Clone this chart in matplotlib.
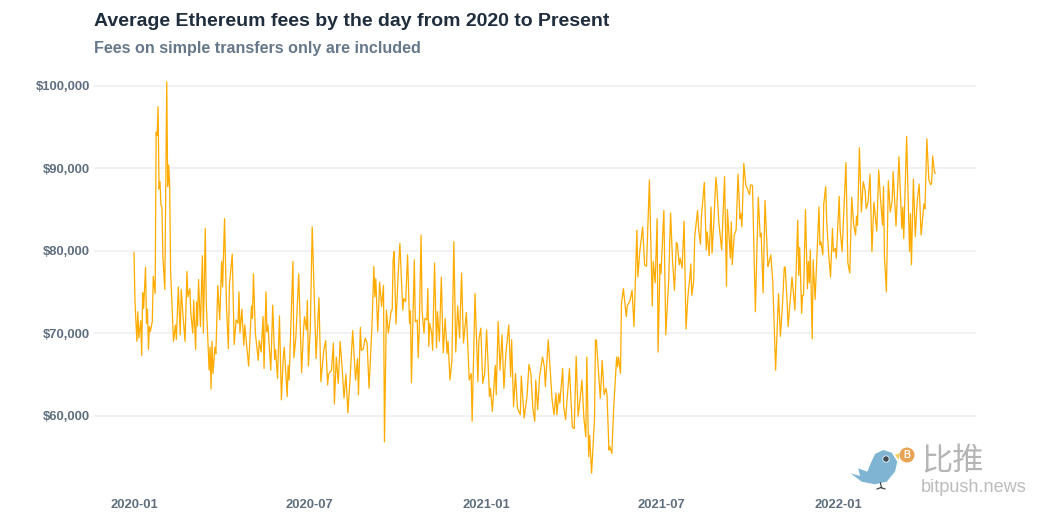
import pandas as pd
import matplotlib
matplotlib.use("Agg")
import matplotlib.pyplot as plt
import matplotlib.dates as mdates
from matplotlib.patches import Polygon, Circle
from matplotlib.ticker import FuncFormatter

days_a = [0,1,3,4,5,7,8,9,10,12,13,14,15,16,17,19,20,22,23,24,25,26,27,28,29,30,32,34,35,36,37,38,41,43,44,46,48,49,51,53,55,56,58,59,61,62,64,65,66,67,69,71,72,74,75,78,79,80,81,82,84,85,87,89,91,92,94,96,98,99,102,104,106,108,109,110,112,114,115,117,119,122,123,124,126,129,130,132,134,135,137,138,139,142,144,146,147,149,151,153,155,156,159,160,161,165,166,168,171,174,176,177,179,180,181,183,185,189,192,194,197,199,201,202,205,207,208,210,212,214,216,218,220,222,224,227,230,232,233,235,236,238,240,242,244,247,249,250,251,253,255,257,259,260,262,264,267,268,269,270,272,274]
fees_a = [79800,74000,69000,72600,69400,71500,67300,74900,73000,78000,71200,72900,68000,70800,70200,71400,76900,74800,94400,94000,97500,87500,88400,85500,85300,79300,75300,100500,87800,90400,88200,77600,69000,71000,69200,75600,69800,75300,72000,69000,77500,74400,75400,72400,70000,74000,68000,73800,70900,76500,70800,79400,70000,82700,73800,65500,68300,63200,69000,65100,68300,67500,75800,71600,78700,75600,83900,73200,68100,75800,79600,68600,71600,71200,75000,70000,72900,68500,71000,68500,66000,73300,71800,77200,70000,66700,69100,67700,72000,65700,75000,70200,71000,65500,73400,66800,68000,64500,72100,61900,67100,68300,62300,66100,64300,78700,67000,69400,77200,65200,70400,72000,70400,74000,66000,70400,82900,66900,74300,64100,67900,69100,63700,65000,65500,68800,61400,67100,63900,69000,65900,62100,65000,60300,63900,70300,64300,66900,62500,70700,67900,68100,69400,68800,63300,70800,78100,74400,76600,70200,76200,73200,75800,56800,72800,70000,72800,72800,78900,79900,71100,76600]
days_b = [276,279,280,282,284,286,287,288,291,292,294,295,296,298,299,301,302,304,305,306,307,309,310,312,314,315,317,319,321,323,325,326,328,330,332,334,336,338,340,342,345,348,350,351,354,357,358,360,362,364,366,369,370,372,375,376,378,380,382,384,386,389,391,392,394,396,398,401,402,405,408,410,412,414,416,417,419,421,424,426,427,430,434,436,438,439,441,442,445,446,448,452,455,457,459,461,463,465,467,469,470,472,473,475,478,479,480,482,484,486,488,490,491,493,494,496,498,501,502,503,505,506,508,511,512,515,517,519,522,523,525]
fees_b = [80900,72800,74200,73800,79500,71200,72700,64000,78900,71400,71600,67000,70000,81900,72800,70000,71800,71600,75400,68400,71200,70000,67900,78500,68200,72600,69000,76800,67600,71800,67500,69000,64300,66700,81100,67700,73300,69400,77300,68800,72500,64300,65100,59300,74800,64100,69200,70600,63900,65100,70400,62300,63300,60500,66100,62500,71400,65500,69800,63300,67500,71000,64700,69200,61100,65100,60900,60100,64800,59700,62400,66200,65100,60900,59300,64300,60700,64700,67100,65900,63500,69200,61900,60100,62700,60100,62700,61500,65700,61100,59500,65700,58600,58400,67200,59900,61900,64300,59700,57400,67100,55000,57600,53000,59500,69200,69100,65500,62100,66700,62500,63300,62500,55800,56200,55400,61100,67100,65900,67100,65100,73600,75400,72000,73300,74000,75200,70800,82500,76800,79900]
days_c = [528,530,532,535,538,539,541,543,544,546,547,550,552,555,557,559,561,563,564,566,567,569,571,573,575,577,578,579,581,582,585,586,588,589,592,594,595,597,599,600,602,604,605,607,610,613,615,616,619,620,621,623,625,627,629,630,631,633,635,637,639,640,642,645,648,650,651,653,655,658,659,661,663,666,669,671,673,675,676,678,679,683,686,687,689,690,691,693,694,695,697,699,700,701,702,704,705,707,711,712,713,715,716,718,719,721,723,725,726,728,729,732,733,735,739,741,743,745,747,749,750,751,753,755,757,759,760,762,764,766,768,771,773,775,777,778,779,781,783,785,787,788,791,794,797,798,799,802,805,806,807,809,811,813,815,817,820,821,823,825,827,828,829,831,832]
fees_c = [82900,78300,78100,88600,73300,78700,76100,83900,67700,78400,77200,84900,69800,76400,84600,78800,75200,81000,80800,78300,79100,77900,83600,70500,74500,76800,78400,74600,76400,81700,84900,82700,80800,84100,88300,80100,82300,79400,85300,79700,83700,88900,87800,83500,80100,89000,75700,85000,79100,83500,78300,81900,82500,89300,83900,84500,82900,90600,88000,87400,86800,88000,87900,72600,86500,81700,82100,74900,86100,78100,78500,79500,76400,65500,74800,69600,73200,78000,78000,73600,70800,76800,72800,76500,83700,77000,80400,72400,74600,74600,85000,75400,78700,76100,80100,69300,78900,74100,85300,80700,81100,79500,85700,87800,83700,79700,76800,82700,79900,80300,79100,86600,82500,79900,90700,78500,77300,86500,83200,81900,84200,83100,92500,84700,88400,87200,85100,85900,89300,79900,85900,82400,89800,86100,83100,87800,79200,75000,88500,84700,86100,89600,83000,91400,82700,85300,81500,93900,79900,84500,78300,88700,81700,86100,88100,81900,85700,85100,93600,88600,88000,88200,91500,89500,89400]

start_date = "2020-01-01"
tick_dates = ["2020-01-01", "2020-07-01", "2021-01-01", "2021-07-01", "2022-01-01"]
tick_values = [60000, 70000, 80000, 90000, 100000]

title = "Average Ethereum fees by the day from 2020 to Present"
subtitle = "Fees on simple transfers only are included"

assert len(days_a) == len(fees_a), (len(days_a), len(fees_a))
assert len(days_b) == len(fees_b), (len(days_b), len(fees_b))
assert len(days_c) == len(fees_c), (len(days_c), len(fees_c))

plt.rcParams["font.family"] = ["Liberation Sans", "DejaVu Sans"]
W, H = 1048, 515
fig = plt.figure(figsize=(W / 100, H / 100), dpi=100, facecolor="white")


def box(l, t, r, b):
    return [l / W, 1 - b / H, (r - l) / W, (b - t) / H]


ax = fig.add_axes(box(94, 78, 976, 488))
dates = pd.to_datetime(start_date) + pd.to_timedelta(days_a + days_b + days_c, unit="D")
ax.plot(dates, fees_a + fees_b + fees_c, color="#ffab00", lw=0.9, clip_on=False, zorder=3)

t0 = pd.to_datetime(start_date)
ax.set_xlim(t0 - pd.Timedelta(days=41.5), t0 + pd.Timedelta(days=874))
ax.set_ylim(51200, 100970)
ax.set_xticks(pd.to_datetime(tick_dates))
ax.xaxis.set_major_formatter(mdates.DateFormatter("%Y-%m"))
ax.set_yticks(tick_values)
ax.yaxis.set_major_formatter(FuncFormatter(lambda v, _: f"${v:,.0f}"))
ax.grid(axis="y", color="#f0f0f4", lw=1.3)
ax.set_axisbelow(True)
for s in ax.spines.values():
    s.set_visible(False)
ax.tick_params(axis="both", length=0, labelcolor="#5f6e7f", labelsize=9.4)
ax.tick_params(axis="x", pad=8)
ax.tick_params(axis="y", pad=3)
for lab in ax.get_xticklabels() + ax.get_yticklabels():
    lab.set_fontweight("bold")

fig.text(94 / W, 1 - 21.5 / H, title, fontsize=14.0, fontweight="bold", color="#1f2d3d", va="center")
fig.text(94 / W, 1 - 48 / H, subtitle, fontsize=11.65, fontweight="bold", color="#66788a", va="center")

# watermark, in pixel coordinates
ov = fig.add_axes([0, 0, 1, 1], facecolor="none")
ov.set_xlim(0, W)
ov.set_ylim(H, 0)
ov.axis("off")
body = [(850.7, 473.3), (860, 476), (858.3, 468.3), (867.3, 471.7), (870.7, 463.3), (875, 454),
        (883.3, 450), (891.7, 452.7), (897.3, 461.7), (895, 471.7), (886.7, 481.7), (875, 484.3), (861.7, 481.7)]
ov.add_patch(Polygon(body, closed=True, fc="#7fb5d3", ec="none"))
ov.add_patch(Polygon([(895, 455), (899, 453), (899, 460)], closed=True, fc="#f2d25c", ec="none"))
ov.add_patch(Circle((886, 459), 3.2, fc="#3f4a52", ec="#dfe7ec", lw=0.7))
ov.add_patch(Circle((907, 455), 7.5, fc="#e8a352", ec="none"))
ov.text(907, 455.3, "B", color="white", fontsize=7, fontweight="bold", ha="center", va="center")
ov.plot([880.5, 881.5], [483, 488], color="#333333", lw=0.8)
ov.plot([877, 881, 885], [489, 487.5, 489], color="#333333", lw=0.8)
ov.text(921, 461, "比推", family=["Noto Sans CJK SC", "DejaVu Sans"], fontsize=22.5, color="#b5b5b5",
        va="center", ha="left")
ov.text(921, 488, "bitpush.news", fontsize=13.1, color="#bcbcbc", va="center", ha="left")

fig.savefig("out.png", dpi=100, facecolor="white")
